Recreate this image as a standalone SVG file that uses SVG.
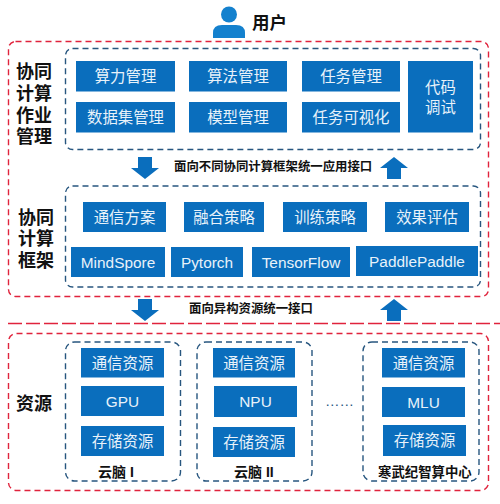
<svg xmlns="http://www.w3.org/2000/svg" width="500" height="504" viewBox="0 0 500 504">
<style>
text{font-family:"Liberation Sans","Noto Sans CJK SC",sans-serif}
.b{fill:#0a6ebd}
.t{fill:#e8f2fa;font-size:15.400px;text-anchor:middle}
.l{fill:#111;font-size:18px;font-weight:700;text-anchor:middle}
.s{fill:#111;font-size:12.400px;font-weight:700}
.c{fill:#111;font-size:14px;font-weight:700}
.r{fill:none;stroke:#e0233c;stroke-width:1.4;stroke-dasharray:6 4}
.d{fill:none;stroke:#27567f;stroke-width:1.4;stroke-dasharray:6 4}
.a{fill:#0a6ebd}
</style>
<defs>
<path id="dn" class="a" d="M-7-11H7V0H14L0 11L-14 0H-7Z"/>
<path id="up" class="a" d="M-7 11H7V0H14L0-11L-14 0H-7Z"/>
</defs>
<g id="user">
<circle cx="229" cy="14.500" r="8" fill="#1481ce"/>
<path d="M213 38V33Q213 25 222 25H236Q245 25 245 33V38Z" fill="#1481ce"/>
<text x="252" y="29" style="font-size:17.500px;font-weight:700;fill:#111">用户</text>
</g>
<g id="connectors">
<use href="#dn" x="145" y="168"/>
<use href="#up" x="394" y="168"/>
<use href="#dn" x="145" y="310"/>
<use href="#up" x="394" y="310"/>
<line x1="8" y1="323.500" x2="500" y2="323.500" stroke="#e0233c" stroke-width="1.4" stroke-dasharray="14 4"/>
</g>
<g id="frames">
<rect class="r" x="8.500" y="41.500" width="480" height="255" rx="7"/>
<rect class="r" x="8.500" y="333.500" width="480" height="157" rx="8"/>
</g>
<g id="labels">
<text class="l"><tspan x="34" y="78">协同</tspan><tspan x="34" y="100">计算</tspan><tspan x="34" y="122">作业</tspan><tspan x="34" y="143">管理</tspan></text>
<text class="l"><tspan x="36" y="224">协同</tspan><tspan x="36" y="245">计算</tspan><tspan x="36" y="267">框架</tspan></text>
<text class="l" x="34" y="410">资源</text>
<text class="s" x="174" y="171">面向不同协同计算框架统一应用接口</text>
<text class="s" x="189" y="313">面向异构资源统一接口</text>
</g>
<g id="app">
<rect class="d" x="65.500" y="48.500" width="415" height="101" rx="7"/>
<g id="n1"><rect class="b" x="76" y="61" width="99" height="30.500"/><text class="t" x="125.500" y="82">算力管理</text></g>
<g id="n2"><rect class="b" x="189" y="61" width="98" height="30.500"/><text class="t" x="238" y="82">算法管理</text></g>
<g id="n3"><rect class="b" x="302" y="61" width="98" height="30.500"/><text class="t" x="351" y="82">任务管理</text></g>
<g id="n4"><rect class="b" x="76" y="102" width="99" height="30.500"/><text class="t" x="125.500" y="123">数据集管理</text></g>
<g id="n5"><rect class="b" x="189" y="102" width="98" height="30.500"/><text class="t" x="238" y="123">模型管理</text></g>
<g id="n6"><rect class="b" x="302" y="102" width="98" height="30.500"/><text class="t" x="351" y="123">任务可视化</text></g>
<g id="n7"><rect class="b" x="408" y="61" width="65" height="71.500"/><text class="t"><tspan x="440.500" y="93">代码</tspan><tspan x="440.500" y="113">调试</tspan></text></g>
</g>
<g id="framework">
<rect class="d" x="65.500" y="186" width="415" height="101" rx="7"/>
<g id="n8"><rect class="b" x="83" y="202" width="83" height="30"/><text class="t" x="124.500" y="223">通信方案</text></g>
<g id="n9"><rect class="b" x="184" y="202" width="80" height="30"/><text class="t" x="224" y="223">融合策略</text></g>
<g id="n10"><rect class="b" x="283" y="202" width="84" height="30"/><text class="t" x="325" y="223">训练策略</text></g>
<g id="n11"><rect class="b" x="385" y="202" width="84" height="30"/><text class="t" x="427" y="223">效果评估</text></g>
<g id="n12"><rect class="b" x="71" y="247" width="94" height="30"/><text class="t" x="118" y="268">MindSpore</text></g>
<g id="n13"><rect class="b" x="171" y="247" width="72" height="30"/><text class="t" x="207" y="268">Pytorch</text></g>
<g id="n14"><rect class="b" x="252" y="247" width="98" height="30"/><text class="t" x="301" y="268">TensorFlow</text></g>
<g id="n15"><rect class="b" x="356" y="246" width="122" height="30"/><text class="t" x="417" y="267">PaddlePaddle</text></g>
</g>
<g id="res1">
<rect class="d" x="65.500" y="342" width="115" height="139" rx="9"/>
<rect class="b" x="81" y="348" width="83" height="29.500"/><text class="t" x="122.500" y="369">通信资源</text>
<rect class="b" x="81" y="386" width="83" height="30"/><text class="t" x="122.500" y="407">GPU</text>
<rect class="b" x="81" y="426" width="83" height="30"/><text class="t" x="122.500" y="447">存储资源</text>
<text class="c" x="98" y="477">云脑 I</text>
</g>
<g id="res2">
<rect class="d" x="197" y="342" width="115" height="139" rx="9"/>
<rect class="b" x="213" y="348" width="82" height="29.500"/><text class="t" x="254" y="369">通信资源</text>
<rect class="b" x="214" y="386" width="83" height="31"/><text class="t" x="255.500" y="407">NPU</text>
<rect class="b" x="213" y="427" width="82" height="30"/><text class="t" x="254" y="448">存储资源</text>
<text class="c" x="234" y="477">云脑 II</text>
</g>
<text x="325" y="406" style="font-size:14.500px;fill:#27567f">……</text>
<g id="res3">
<rect class="d" x="363" y="342" width="116" height="139" rx="9"/>
<rect class="b" x="382" y="348" width="83" height="29.500"/><text class="t" x="423.500" y="369">通信资源</text>
<rect class="b" x="382" y="387" width="83" height="30"/><text class="t" x="423.500" y="408">MLU</text>
<rect class="b" x="383" y="425" width="83" height="31"/><text class="t" x="424.500" y="446">存储资源</text>
<text x="378" y="477" style="font-size:13.400px;font-weight:700;fill:#111">寒武纪智算中心</text>
</g>
</svg>
